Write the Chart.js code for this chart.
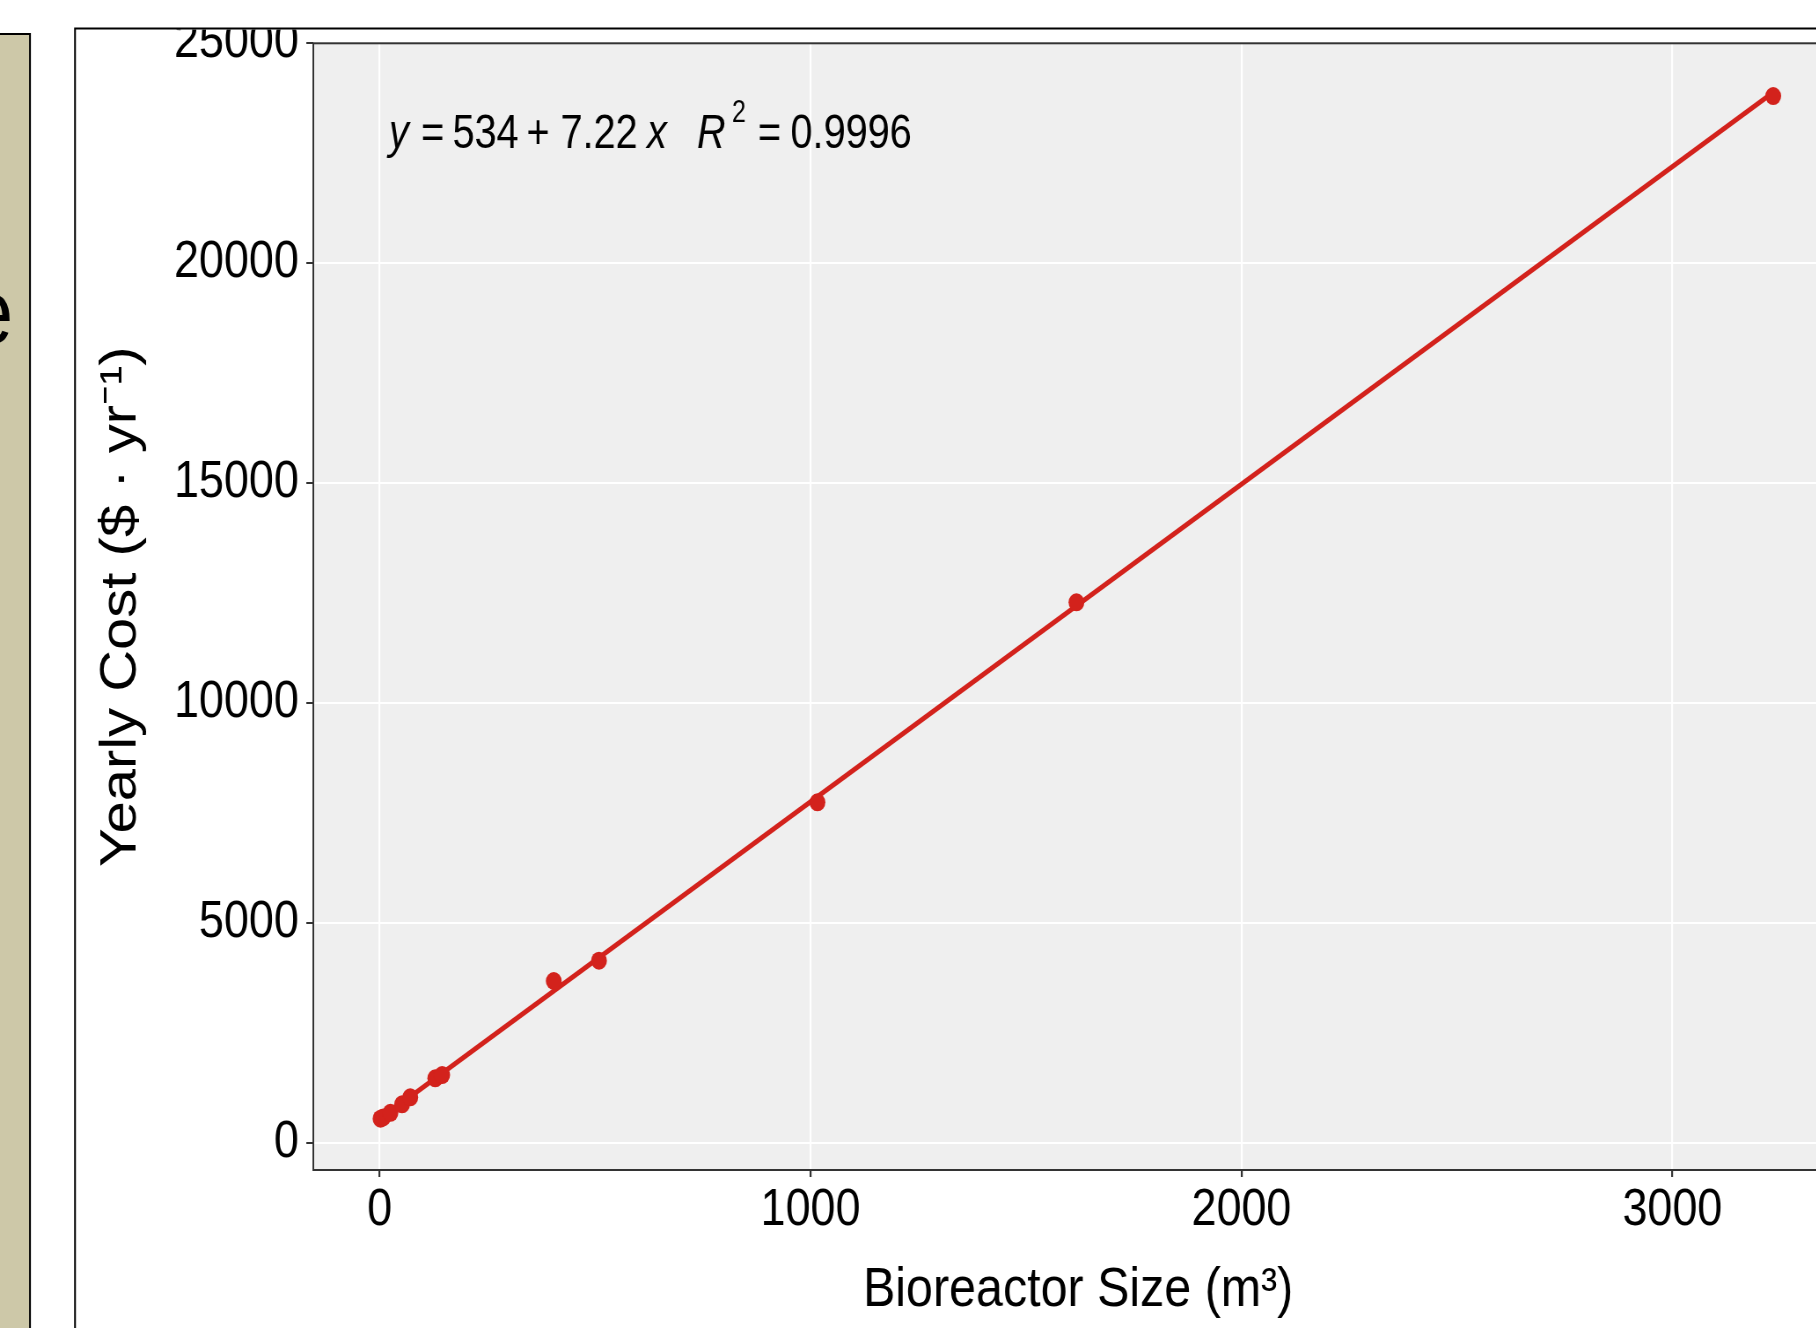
<!DOCTYPE html>
<html>
<head>
<meta charset="utf-8">
<script src="https://cdn.jsdelivr.net/npm/chart.js@4.4.1/dist/chart.umd.min.js"></script>
<style>
html, body { margin: 0; padding: 0; overflow: hidden; background: #fff; width: 1816px; height: 1328px; }
#wrap { position: absolute; left: 0; top: 0; transform-origin: 0 0; }
canvas { display: block; }
</style>
</head>
<body>
<div id="wrap"><canvas id="c"></canvas></div>
<script>
// ---------- data ----------
const bioreactorSize = [2, 8, 25, 52, 71, 129, 145, 404, 509, 1016, 1617, 3234];
const yearlyCost     = [545, 575, 680, 873, 1032, 1464, 1539, 3677, 4138, 7740, 12287, 23800];
const fitX = [2, 3234];
const fitY = [548, 23884];
const xTicks = [0, 1000, 2000, 3000];
const yTicks = [0, 5000, 10000, 15000, 20000, 25000];
const xTitle = 'Bioreactor Size (m³)';
const yTitle = 'Yearly Cost ($ · yr⁻¹)';
const eqText = ['y', '=', '534', '+', '7.22', 'x', 'R', '2', '=', '0.9996'];
const sideLetter = 'e';

// ---------- styling / layout ----------
const S = 0.88;                 // horizontal compression of the whole figure
const ux = a => a / S;          // actual px -> canvas px (horizontal)
const H = 1328;
const W = Math.ceil(1880 / S);
const RED = '#D3221C';
const FONT = '"Liberation Sans", Arial, Helvetica, sans-serif';
const eqX = [389, 421, 452.5, 526.5, 560.5, 647, 697, 732, 758, 790.5];
const eqItalic = [1, 0, 0, 0, 0, 1, 1, 0, 0, 0];
const eqSup = [0, 0, 0, 0, 0, 0, 0, 1, 0, 0];

const wrap = document.getElementById('wrap');
const cv = document.getElementById('c');
cv.width = W; cv.height = H;
wrap.style.width = W + 'px';
wrap.style.height = H + 'px';
wrap.style.transform = 'scaleX(' + S + ')';

const deco = {
  id: 'deco',
  beforeDraw(chart) {
    const ctx = chart.ctx, a = chart.chartArea;
    ctx.save();
    ctx.fillStyle = '#fff';
    ctx.fillRect(0, 0, W, H);
    // panel background
    ctx.fillStyle = '#EFEFEF';
    ctx.fillRect(a.left, a.top, a.right - a.left, a.bottom - a.top);
    ctx.restore();
  },
  afterDraw(chart) {
    const ctx = chart.ctx, a = chart.chartArea;
    ctx.save();
    // panel border
    ctx.strokeStyle = '#333';
    ctx.lineWidth = 2;
    ctx.strokeRect(a.left, a.top, a.right - a.left, a.bottom - a.top);
    // regression equation
    ctx.fillStyle = '#000';
    ctx.textAlign = 'left';
    ctx.textBaseline = 'alphabetic';
    eqText.forEach((t, i) => {
      ctx.save();
      const sup = eqSup[i] === 1;
      ctx.translate(ux(eqX[i]), sup ? 122 : 148);
      ctx.scale(0.92, 1);
      ctx.font = (eqItalic[i] ? 'italic ' : '') + (sup ? 31 : 49) + 'px ' + FONT;
      ctx.fillText(t, 0, 0);
      ctx.restore();
    });
    // figure is cropped just under the outer frame
    ctx.fillStyle = '#fff';
    ctx.fillRect(ux(76), 0, W, 29.5);
    ctx.fillRect(ux(31), 0, ux(44), H);
    // tan strip on the left
    ctx.fillStyle = '#CDC8A8';
    ctx.fillRect(0, 34, ux(30), H - 34);
    ctx.fillStyle = '#000';
    ctx.font = '90px ' + FONT;
    ctx.fillText(sideLetter, ux(-31), 343);
    ctx.strokeStyle = '#000';
    ctx.lineWidth = 2;
    ctx.beginPath();
    ctx.moveTo(0, 34); ctx.lineTo(ux(30), 34); ctx.lineTo(ux(30), H + 2);
    ctx.stroke();
    // outer frame
    ctx.beginPath();
    ctx.moveTo(ux(75), H + 2); ctx.lineTo(ux(75), 28.5); ctx.lineTo(W + 2, 28.5);
    ctx.stroke();
    ctx.restore();
  }
};

new Chart(cv, {
  type: 'scatter',
  data: {
    datasets: [
      {
        type: 'line',
        label: 'fit',
        data: fitX.map((x, i) => ({ x: x, y: fitY[i] })),
        borderColor: RED,
        borderWidth: 5,
        pointRadius: 0,
        fill: false,
        tension: 0,
        order: 2
      },
      {
        label: 'cost',
        data: bioreactorSize.map((x, i) => ({ x: x, y: yearlyCost[i] })),
        backgroundColor: RED,
        borderColor: RED,
        borderWidth: 0,
        pointRadius: 9,
        order: 1
      }
    ]
  },
  options: {
    responsive: false,
    animation: false,
    events: [],
    layout: { padding: { left: 0, top: 43.3, right: W - ux(1843), bottom: 0 } },
    plugins: { legend: { display: false }, tooltip: { enabled: false } },
    scales: {
      x: {
        type: 'linear',
        min: -154,
        max: 3396,
        afterBuildTicks: s => { s.ticks = xTicks.map(v => ({ value: v })); },
        afterFit: s => { s.height = H - 1170; },
        grid: { color: '#fff', lineWidth: 2.2, tickColor: '#333', tickWidth: 2.2, tickLength: 7, drawTicks: true },
        border: { display: false },
        ticks: { font: { family: FONT, size: 51, lineHeight: 1.2 }, color: '#000', padding: 3, maxRotation: 0, autoSkip: false, callback: v => String(v) },
        title: { display: true, text: xTitle, color: '#000', font: { family: FONT, size: 55, lineHeight: 1.2 }, padding: { top: 0, bottom: 4 } }
      },
      y: {
        type: 'linear',
        min: -621,
        max: 25000,
        afterBuildTicks: s => { s.ticks = yTicks.map(v => ({ value: v })); },
        afterFit: s => { s.width = ux(313.3); },
        grid: { color: '#fff', lineWidth: 2, tickColor: '#333', tickWidth: 2, tickLength: ux(7), drawTicks: true },
        border: { display: false },
        ticks: { font: { family: FONT, size: 51, lineHeight: 1.2 }, color: '#000', padding: 8.5, autoSkip: false, callback: v => String(v) },
        title: { display: true, text: yTitle, color: '#000', font: { family: FONT, size: 58, lineHeight: 1.2 }, padding: { top: 103.4, bottom: 0 } }
      }
    }
  },
  plugins: [deco]
});
</script>
</body>
</html>
